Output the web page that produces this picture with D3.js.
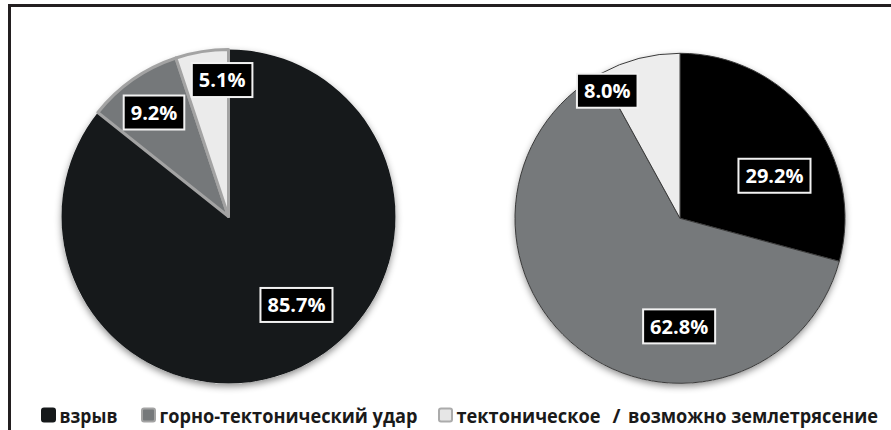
<!DOCTYPE html>
<html><head><meta charset="utf-8">
<script src="https://cdn.jsdelivr.net/npm/d3@7"></script>
<style>
html,body{margin:0;padding:0;background:#fff;}
svg{display:block;}
text{font-family:"Open Sans",sans-serif;font-weight:bold;}
</style></head>
<body>
<svg id="chart" width="891" height="430"></svg>
<script>
// ---- data ----
const categories = ["взрыв", "горно-тектонический удар", "тектоническое / возможно землетрясение"];
const leftValues = [85.7, 9.2, 5.1];
const rightValues = [29.2, 62.8, 8.0];
const leftLabels = ["85.7%", "9.2%", "5.1%"];
const rightLabels = ["29.2%", "62.8%", "8.0%"];

// ---- layout / styles ----
const W = 891, H = 430;
const svg = d3.select("#chart");
const defs = svg.append("defs");
const f = defs.append("filter").attr("id","shadow").attr("x","-20%").attr("y","-20%").attr("width","140%").attr("height","140%");
f.append("feDropShadow").attr("dx",0).attr("dy",3).attr("stdDeviation",3.5).attr("flood-color","#000").attr("flood-opacity",0.45);

// frame (only left and top visible)
svg.append("path").attr("d",`M9.5,${H}V5.5H${W}`)
  .attr("fill","none").attr("stroke","#231f20").attr("stroke-width",3);

const pies = [
  {values:leftValues, labels:leftLabels, cx:228.5, cy:216.5, r:167,
   colors:["#16191b","#75787a","#ebebeb"], stroke:["none","#a3a3a3","#a3a3a3"], sw:3,
   place:[[0.668,-11.8],[0.766,-0.7],[0.818,6.5]]},
  {values:rightValues, labels:rightLabels, cx:680, cy:218.3, r:165,
   colors:["#000000","#76797b","#ededed"], stroke:["#3a3a3a","#3a3a3a","#3a3a3a"], sw:1,
   place:[[0.628,13.2],[0.655,-37.7],[0.89,-15.3]]}
];

const pieGen = d3.pie().sort(null).value(d => d);

pies.forEach(p => {
  const g = svg.append("g").attr("transform",`translate(${p.cx},${p.cy})`);
  const arcs = pieGen(p.values);
  const arc = d3.arc().innerRadius(0).outerRadius(p.r);
  g.append("circle").attr("r",p.r).attr("fill","#fff").attr("filter","url(#shadow)");
  g.selectAll("path.slice").data(arcs).enter().append("path").attr("class","slice")
    .attr("d",arc).attr("fill",(d,i)=>p.colors[i])
    .attr("stroke",(d,i)=>p.stroke[i]).attr("stroke-width",p.sw).attr("stroke-linejoin","round");
  arcs.forEach((d,i) => {
    const mid = (d.startAngle + d.endAngle)/2 + p.place[i][1]*Math.PI/180;
    const rr = p.r * p.place[i][0];
    const c = d3.arc().innerRadius(rr).outerRadius(rr).startAngle(mid).endAngle(mid).centroid();
    const lg = g.append("g").attr("transform",`translate(${c[0]},${c[1]})`);
    const t = lg.append("text").attr("text-anchor","middle").attr("dy","0.36em")
      .attr("font-size",20).attr("fill","#fff").text(p.labels[i]);
    const bw = t.node().getComputedTextLength() + 14;
    lg.insert("rect","text").attr("x",-bw/2).attr("y",-17).attr("width",bw).attr("height",34)
      .attr("fill","#000").attr("stroke","#f2f2f2").attr("stroke-width",2);
  });
});

// legend
const legendX = [41, 141, 438];
// [x, width] for each word group of a legend text (split at " / ")
const legendPieces = [
  [[59.5, 58]],
  [[159.5, 258]],
  [[456.5, 144], [612.5, 8], [628, 250]]
];
const swFill = ["#16191b","#75787a","#e6e6e6"];
const swStroke = ["#16191b","#a3a3a3","#ababab"];
const lg = svg.append("g");
categories.forEach((c,i) => {
  lg.append("rect").attr("x",legendX[i]+1).attr("y",408.5).attr("width",13).attr("height",13)
    .attr("rx",2).attr("fill",swFill[i]).attr("stroke",swStroke[i]).attr("stroke-width",2);
  const parts = c.split(" / ");
  const words = parts.length > 1 ? [parts[0], "/", parts[1]] : parts;
  words.forEach((w,k) => {
    const [x, wd] = legendPieces[i][k];
    lg.append("text").attr("x",x).attr("y",422.5).attr("font-size",19)
      .attr("fill","#1a1a1a").attr("textLength",wd).attr("lengthAdjust","spacingAndGlyphs")
      .text(w);
  });
});
</script>
</body></html>
